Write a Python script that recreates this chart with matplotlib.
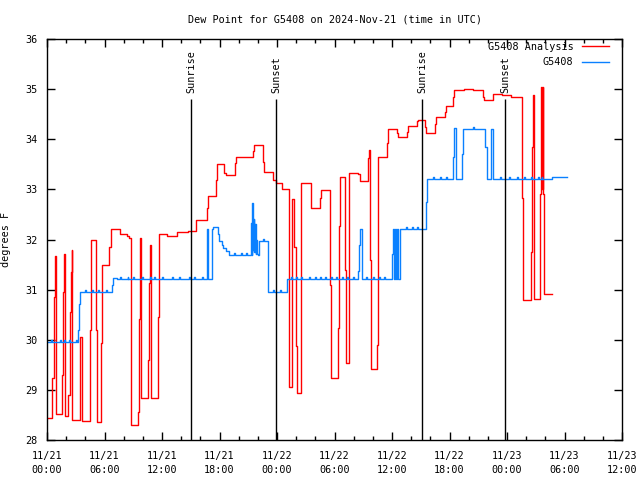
#!/usr/bin/env python3
import numpy as np
import matplotlib
matplotlib.use("Agg")
import matplotlib.pyplot as plt

# hours since 2024-11-21 00:00 UTC, step data
red_hours = [0.00, 0.56, 0.70, 0.80, 0.90, 0.97, 1.53, 1.67, 1.77, 1.84,
             2.23, 2.37, 2.47, 2.57, 2.64, 3.44, 3.62, 4.49, 4.63, 5.15,
             5.25, 5.60, 5.71, 6.50, 6.64, 7.58, 8.38, 8.55, 8.73, 9.53,
             9.60, 9.74, 9.81, 10.57, 10.68, 10.78, 10.83, 10.88, 11.62, 11.72,
             12.56, 13.60, 14.68, 15.51, 16.66, 16.77, 17.64, 17.71, 18.50, 18.64,
             19.61, 19.72, 21.53, 21.63, 22.57, 22.68, 23.62, 23.86, 24.56, 25.25,
             25.55, 25.81, 25.95, 26.06, 26.50, 27.51, 27.58, 28.52, 28.63, 29.57,
             29.67, 30.40, 30.50, 30.57, 31.10, 31.20, 31.51, 31.55, 32.49, 32.66,
             33.53, 33.60, 33.74, 33.81, 34.40, 34.50, 34.58, 35.51, 35.62, 36.49,
             36.59, 37.53, 37.64, 38.57, 38.68, 39.44, 39.55, 40.49, 40.59, 41.53,
             41.63, 42.40, 42.50, 43.51, 44.48, 45.53, 45.63, 46.50, 46.57, 47.44,
             47.55, 48.38, 49.53, 49.63, 50.50, 50.65, 50.75, 50.82, 50.85, 51.44,
             51.55, 51.62, 51.72, 51.79, 51.90, 52.66]
red_vals = [28.43, 29.23, 30.86, 31.67, 29.30, 28.51, 29.30, 30.96, 31.72, 28.47,
            28.90, 30.56, 31.36, 31.79, 28.40, 30.06, 28.37, 30.19, 32.00, 30.20,
            28.35, 29.93, 31.49, 31.86, 32.21, 32.11, 32.07, 32.03, 28.30, 28.56,
            30.41, 32.02, 28.83, 29.60, 31.13, 31.89, 30.36, 28.83, 30.45, 32.10,
            32.06, 32.14, 32.17, 32.39, 32.62, 32.87, 33.19, 33.51, 33.33, 33.29,
            33.52, 33.64, 33.76, 33.88, 33.55, 33.34, 33.19, 33.13, 33.01, 29.06,
            32.80, 31.86, 29.88, 28.93, 33.13, 32.89, 32.62, 32.82, 32.99, 31.09,
            29.23, 30.23, 32.26, 33.25, 31.39, 29.53, 31.30, 33.32, 33.30, 33.17,
            33.62, 33.78, 31.59, 29.41, 29.90, 31.50, 33.64, 33.92, 34.20, 34.12,
            34.04, 34.15, 34.26, 34.37, 34.38, 34.25, 34.12, 34.30, 34.44, 34.55,
            34.67, 34.85, 34.98, 35.00, 34.98, 34.85, 34.78, 34.85, 34.91, 34.89,
            34.88, 34.85, 32.82, 30.79, 31.75, 33.85, 34.88, 32.80, 30.82, 32.90,
            35.05, 33.00, 35.05, 32.90, 30.92, 30.92]

blue_hours = [0.00, 0.45, 0.55, 1.40, 1.50, 1.80, 1.90, 2.25, 2.35, 3.00,
              3.10, 3.27, 3.37, 3.44, 4.00, 4.10, 4.70, 4.80, 5.30, 5.40,
              6.20, 6.30, 6.82, 6.92, 7.30, 7.60, 7.70, 8.40, 8.50, 9.00,
              9.10, 9.90, 10.00, 10.70, 10.80, 11.20, 11.30, 12.00, 12.10, 13.00,
              13.10, 13.80, 13.90, 14.80, 14.90, 15.30, 15.40, 16.20, 16.30, 16.66,
              16.72, 16.80, 17.18, 17.25, 17.36, 17.80, 17.88, 17.98, 18.23, 18.40,
              18.70, 19.03, 19.50, 19.60, 20.20, 20.30, 20.80, 20.90, 21.29, 21.36,
              21.43, 21.50, 21.55, 21.62, 21.70, 21.78, 21.85, 21.95, 22.05, 22.12,
              22.50, 22.60, 23.03, 23.10, 23.60, 23.70, 24.30, 24.40, 25.01, 25.50,
              25.60, 26.00, 26.10, 26.50, 26.60, 27.30, 27.40, 28.00, 28.10, 28.50,
              28.60, 29.00, 29.10, 29.60, 29.70, 30.20, 30.30, 30.80, 30.90, 31.30,
              31.40, 31.90, 32.00, 32.49, 32.56, 32.66, 32.84, 33.30, 33.40, 34.00,
              34.10, 34.60, 34.70, 35.20, 35.30, 36.04, 36.10, 36.20, 36.35, 36.45,
              36.55, 36.65, 36.84, 37.50, 37.60, 38.10, 38.20, 38.60, 38.70, 39.55,
              39.69, 40.30, 40.40, 41.00, 41.10, 41.60, 41.70, 42.40, 42.50, 42.64,
              43.34, 43.44, 44.50, 44.60, 45.70, 45.88, 46.29, 46.50, 47.30, 47.40,
              48.20, 48.30, 49.00, 49.10, 49.80, 49.90, 50.50, 50.60, 51.20, 51.30,
              51.60, 51.70, 52.66, 54.23]
blue_vals = [29.96, 30.00, 29.96, 30.00, 29.96, 30.00, 29.96, 30.00, 29.96, 30.00,
             29.96, 30.20, 30.71, 30.96, 31.00, 30.96, 31.00, 30.96, 31.00, 30.96,
             31.00, 30.96, 31.10, 31.24, 31.21, 31.25, 31.21, 31.25, 31.21, 31.25,
             31.21, 31.25, 31.21, 31.25, 31.21, 31.25, 31.21, 31.25, 31.21, 31.25,
             31.21, 31.25, 31.21, 31.25, 31.21, 31.25, 31.21, 31.25, 31.21, 31.71,
             32.21, 31.21, 31.71, 32.21, 32.24, 32.20, 32.10, 31.97, 31.90, 31.83,
             31.78, 31.70, 31.73, 31.70, 31.73, 31.70, 31.73, 31.70, 32.33, 31.70,
             32.73, 31.80, 32.40, 31.75, 32.30, 31.72, 32.00, 31.72, 31.70, 31.98,
             32.01, 31.98, 31.47, 30.96, 31.00, 30.96, 31.00, 30.96, 31.21, 31.25,
             31.21, 31.25, 31.21, 31.25, 31.21, 31.25, 31.21, 31.25, 31.21, 31.25,
             31.21, 31.25, 31.21, 31.25, 31.21, 31.25, 31.21, 31.25, 31.21, 31.25,
             31.21, 31.25, 31.21, 31.38, 31.90, 32.20, 31.21, 31.25, 31.21, 31.25,
             31.21, 31.25, 31.21, 31.25, 31.21, 31.71, 32.21, 31.21, 32.21, 31.21,
             32.21, 31.21, 32.21, 32.25, 32.21, 32.25, 32.21, 32.25, 32.21, 32.75,
             33.21, 33.25, 33.21, 33.25, 33.21, 33.25, 33.21, 33.64, 34.22, 33.21,
             33.70, 34.21, 34.25, 34.21, 33.85, 33.21, 34.20, 33.21, 33.25, 33.21,
             33.25, 33.21, 33.25, 33.21, 33.25, 33.21, 33.25, 33.21, 33.25, 33.21,
             33.25, 33.21, 33.24, 33.24]

sun_hours = [15.03, 23.90, 39.13, 47.79]
sun_labels = ["Sunrise", "Sunset", "Sunrise", "Sunset"]

tick_hours = [0, 6, 12, 18, 24, 30, 36, 42, 48, 54, 60]
tick_labels = ["11/21\n00:00", "11/21\n06:00", "11/21\n12:00", "11/21\n18:00",
               "11/22\n00:00", "11/22\n06:00", "11/22\n12:00", "11/22\n18:00",
               "11/23\n00:00", "11/23\n06:00", "11/23\n12:00"]

plt.rcParams['font.family'] = ['DejaVu Sans Mono']
plt.rcParams['font.size'] = 7.3

fig = plt.figure(figsize=(6.4, 4.8), dpi=100)
ax = fig.add_axes([47/640, 40/480, 575/640, 401/480])

ax.plot(red_hours, red_vals, drawstyle='steps-post', color='#ff0000', lw=1.0,
        label='G5408 Analysis')
ax.plot(blue_hours, blue_vals, drawstyle='steps-post', color='#0a80ff', lw=1.0,
        label='G5408')

for h, lab in zip(sun_hours, sun_labels):
    ax.vlines(h, 28, 34.8, color='black', lw=1.0)
    ax.text(h, 34.93, lab, rotation=90, ha='center', va='bottom')

ax.set_xlim(0, 60)
ax.set_ylim(28, 36)
ax.set_xticks(tick_hours)
ax.set_xticklabels(tick_labels, linespacing=1.5)
ax.set_xticks(np.arange(0, 61, 2), minor=True)
ax.set_yticks(np.arange(28, 37, 1))
ax.tick_params(which='both', direction='in', top=True, right=True, width=1.0)
ax.tick_params(which='major', length=6)
ax.tick_params(which='minor', length=3)
ax.tick_params(axis='x', pad=8)
ax.tick_params(axis='y', pad=7)
for s in ax.spines.values():
    s.set_linewidth(1.0)

ax.set_title("Dew Point for G5408 on 2024-Nov-21 (time in UTC)", fontsize=7.3, pad=12)
ax.set_ylabel("degrees F")
ax.yaxis.set_label_coords(-36/575, 0.5)

ax.legend(loc='upper right', frameon=False, markerfirst=False,
          handlelength=2.7, handletextpad=0.8, labelspacing=0.5,
          borderpad=0.0, borderaxespad=0.0,
          bbox_to_anchor=(1 - 13/575, 1 - 3/401))

fig.savefig("out.png", dpi=100)
